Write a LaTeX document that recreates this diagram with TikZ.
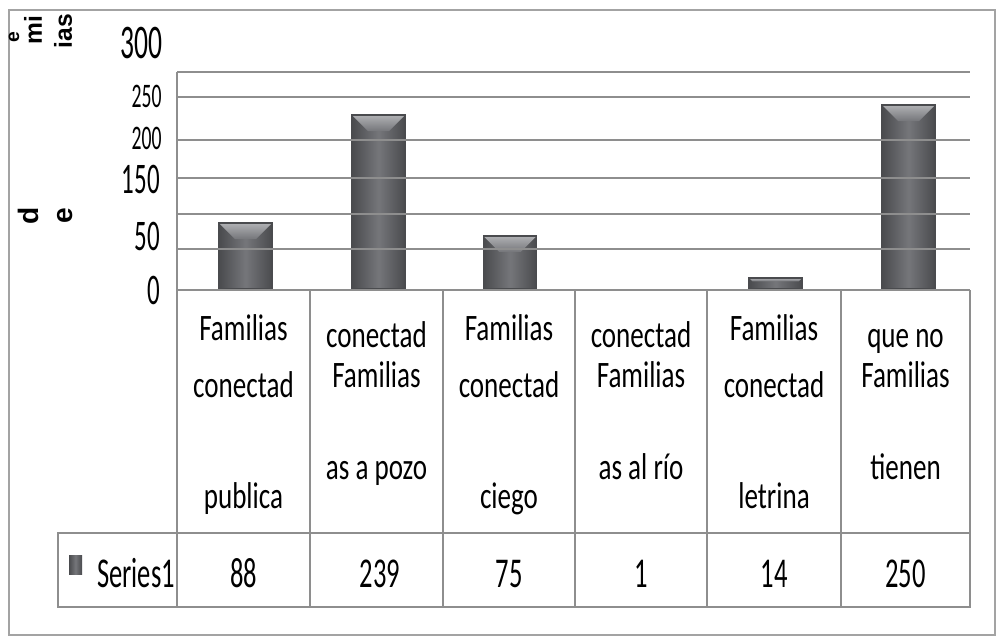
\documentclass[tikz,border=0pt]{standalone}
\usepackage{fontspec}
\setmainfont{Carlito}
\newfontfamily\axisfont{Liberation Sans}
\usepackage{graphicx}

\definecolor{framegray}{HTML}{A3A3A3}
\definecolor{gridgray}{HTML}{8E8E8E}
\definecolor{bardark}{HTML}{4A4B4E}
\definecolor{barmid}{HTML}{75767A}
\definecolor{barlight}{HTML}{B0B1B4}

\newcommand{\tallcat}[1]{\scalebox{1}[1.38]{#1}}
\newcommand{\tallval}[1]{\scalebox{1}[1.6]{#1}}
\newcommand{\talltick}[1]{\scalebox{1}[1.75]{#1}}

\tikzset{
    catlabel/.style={anchor=base,inner sep=0pt,font=\fontsize{15.4}{18}\selectfont},
    vallabel/.style={anchor=base,inner sep=0pt,font=\fontsize{15.1}{18}\selectfont},
    ticklabel/.style={anchor=base east,inner sep=0pt},
    axistitle/.style={rotate=90,inner sep=0pt,font=\axisfont\bfseries\fontsize{14}{16}\selectfont},
    gridline/.style={draw=gridgray,line width=1.1pt},
    tableline/.style={draw=gridgray,line width=0.9pt}
}

\begin{document}
\begin{tikzpicture}[x=0.02cm,y=-0.02cm]
        \useasboundingbox (0,0) rectangle (1000,637);
        \draw[draw=framegray,line width=1.2pt] (9,10) rectangle (995,635);

        % bars
        \foreach \bx/\by in {245.5/223,378.5/115,510/236,775.5/278,908.5/105} {
            \pgfmathsetmacro{\bev}{min(16,(289-\by)*0.3)}
            \shade[left color=bardark,right color=bardark,middle color=barmid] (\bx-26.5,\by) rectangle (\bx+26.5,289);
            \shade[top color=barlight,bottom color=barmid] (\bx-26.5,\by) -- (\bx+26.5,\by) -- (\bx+26.5-\bev,\by+\bev) -- (\bx-26.5+\bev,\by+\bev) -- cycle;
            \draw[bardark,line width=0.6pt] (\bx-26.5,\by) rectangle (\bx+26.5,289);
        }

        % gridlines
        \foreach \gy in {72,97,140,178,214,249}
            \draw[gridline] (177,\gy) -- (970,\gy);

        % table
        \draw[tableline] (177,72) -- (177,607);
        \draw[tableline] (177,290) -- (970,290);
        \foreach \cx in {310,443,575,707,841,970}
            \draw[tableline] (\cx,290) -- (\cx,607);
        \draw[tableline] (58,533) rectangle (970,607);

        % axis numbers
        \node[ticklabel,font=\fontsize{15.7}{18}\selectfont] (T300) at (163,58) {\talltick{300}};
        \node[ticklabel,font=\fontsize{11.2}{14}\selectfont] (T250) at (162,107) {\talltick{250}};
        \node[ticklabel,font=\fontsize{11.2}{14}\selectfont] (T200) at (162,149) {\talltick{200}};
        \node[ticklabel,font=\fontsize{14.2}{16}\selectfont] (T150) at (160,193) {\talltick{150}};
        \node[ticklabel,font=\fontsize{14.2}{16}\selectfont] (T50) at (160,250) {\talltick{50}};
        \node[ticklabel,font=\fontsize{14.2}{16}\selectfont] (T0) at (160,304) {\talltick{0}};

        % axis title pieces
        \node[axistitle,font=\axisfont\bfseries\fontsize{11}{13}\selectfont] (Ye) at (14,37) {e};
        \node[axistitle] (Ymi) at (33,30) {mi};
        \node[axistitle] (Yias) at (63,31) {ias};
        \node[axistitle,font=\axisfont\bfseries\fontsize{16}{18}\selectfont] (Yd) at (28,216) {d};
        \node[axistitle,font=\axisfont\bfseries\fontsize{16}{18}\selectfont] (Ye2) at (65,216) {e};

        % categories
        \node[catlabel] (C1a) at (243.5,340) {\tallcat{Familias}};
        \node[catlabel] (C1b) at (243.5,397) {\tallcat{conectad}};
        \node[catlabel] (C1c) at (243.5,508) {\tallcat{publica}};
        \node[catlabel] (C2a) at (376.5,347) {\tallcat{conectad}};
        \node[catlabel] (C2b) at (376.5,387) {\tallcat{Familias}};
        \node[catlabel] (C2c) at (376.5,479) {\tallcat{as a pozo}};
        \node[catlabel] (C3a) at (509,340) {\tallcat{Familias}};
        \node[catlabel] (C3b) at (509,397) {\tallcat{conectad}};
        \node[catlabel] (C3c) at (509,508) {\tallcat{ciego}};
        \node[catlabel] (C4a) at (641,347) {\tallcat{conectad}};
        \node[catlabel] (C4b) at (641,387) {\tallcat{Familias}};
        \node[catlabel] (C4c) at (641,479) {\tallcat{as al río}};
        \node[catlabel] (C5a) at (774,340) {\tallcat{Familias}};
        \node[catlabel] (C5b) at (774,397) {\tallcat{conectad}};
        \node[catlabel] (C5c) at (774,508) {\tallcat{letrina}};
        \node[catlabel] (C6a) at (905.5,347) {\tallcat{que no}};
        \node[catlabel] (C6b) at (905.5,387) {\tallcat{Familias}};
        \node[catlabel] (C6c) at (905.5,479) {\tallcat{tienen}};

        % data row
        \shade[left color=bardark,right color=bardark,middle color=barmid] (69,555) rectangle (82,574);
        \node[vallabel] (S) at (136,587) {\tallval{Series1}};
        \node[vallabel] (V1) at (243.5,587) {\tallval{88}};
        \node[vallabel] (V2) at (380,587) {\tallval{239}};
        \node[vallabel] (V3) at (509,587) {\tallval{75}};
        \node[vallabel] (V4) at (641,587) {\tallval{1}};
        \node[vallabel] (V5) at (774,587) {\tallval{14}};
        \node[vallabel] (V6) at (905.5,587) {\tallval{250}};
\end{tikzpicture}
\end{document}
